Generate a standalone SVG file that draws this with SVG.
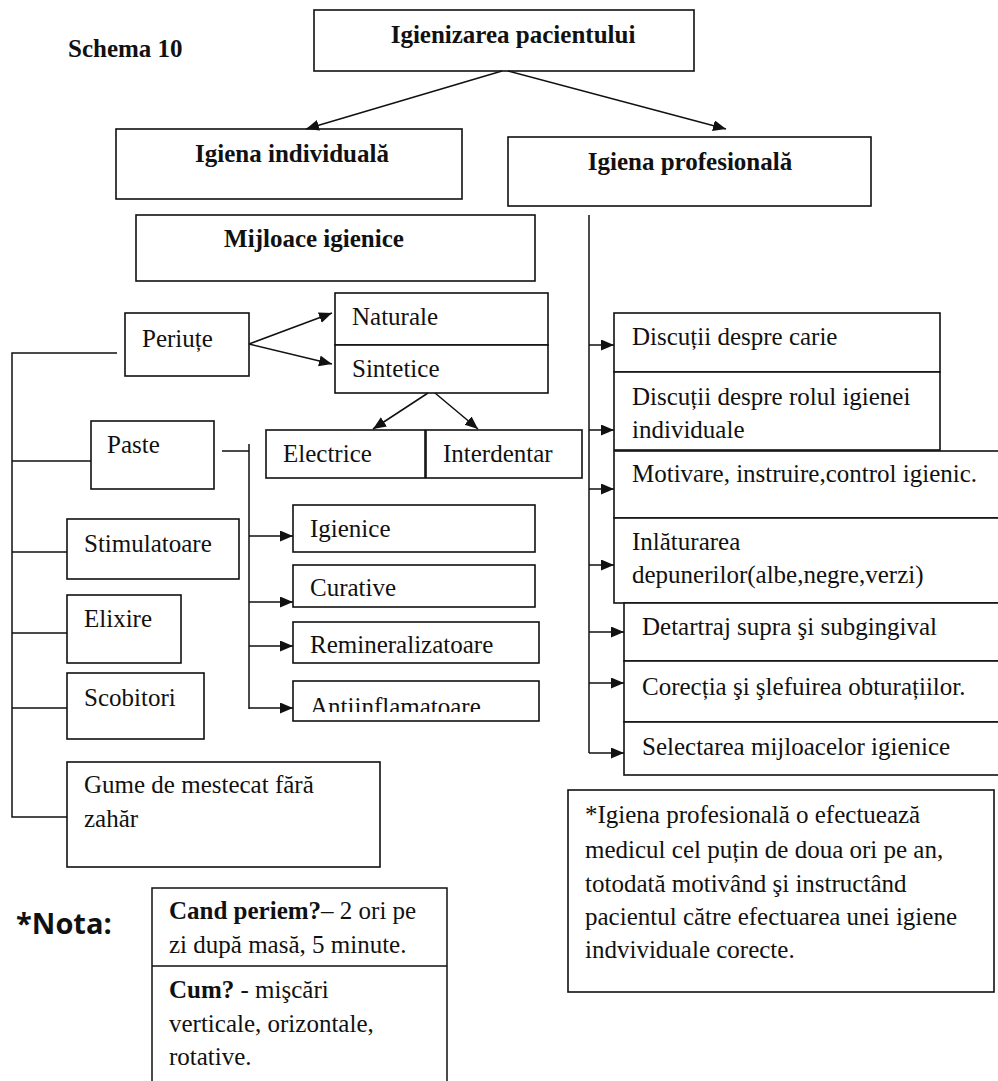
<svg xmlns="http://www.w3.org/2000/svg" width="998" height="1081" viewBox="0 0 998 1081">
<style>
.b{fill:#fff;stroke:#111;stroke-width:1.6}
.c{fill:none;stroke:#111;stroke-width:1.5}
.t{font-family:"Liberation Serif","Times New Roman",serif;font-size:25px;fill:#111}
.tb{font-family:"Liberation Serif","Times New Roman",serif;font-size:25px;font-weight:bold;fill:#111}
.n{font-family:"Open Sans","Liberation Sans",sans-serif;font-size:29px;font-weight:bold;fill:#111}
</style>
<defs>
<marker id="ah" markerUnits="userSpaceOnUse" markerWidth="14" markerHeight="12" refX="13" refY="5.5" orient="auto">
<path d="M0,0 L13,5.5 L0,11 z" fill="#111"/>
</marker>
<clipPath id="clipA"><rect x="293" y="681" width="246" height="31"/></clipPath>
</defs>
<rect width="998" height="1081" fill="#fff"/>

<text class="tb" x="68" y="57">Schema 10</text>

<g id="n-root"><rect class="b" x="314" y="10" width="380" height="61"/><text class="tb" x="513" y="43" text-anchor="middle">Igienizarea pacientului</text></g>
<g id="n-indiv"><rect class="b" x="116" y="129" width="346" height="70"/><text class="tb" x="292" y="162" text-anchor="middle">Igiena individuală</text></g>
<g id="n-prof"><rect class="b" x="508" y="137" width="363" height="69"/><text class="tb" x="690" y="170" text-anchor="middle">Igiena profesională</text></g>
<g id="n-mij"><rect class="b" x="136" y="215" width="399" height="66"/><text class="tb" x="314" y="247" text-anchor="middle">Mijloace igienice</text></g>

<g id="n-periute"><rect class="b" x="125" y="313" width="124" height="63"/><text class="t" x="142" y="347">Periuțe</text></g>
<g id="n-naturale"><rect class="b" x="335" y="293" width="213" height="52"/><text class="t" x="352" y="325">Naturale</text></g>
<g id="n-sintetice"><rect class="b" x="335" y="345" width="213" height="48"/><text class="t" x="352" y="377">Sintetice</text></g>
<g id="n-electrice"><rect class="b" x="266" y="430" width="159" height="48"/><text class="t" x="283" y="462">Electrice</text></g>
<g id="n-interdentar"><rect class="b" x="426" y="430" width="156" height="48"/><text class="t" x="443" y="462">Interdentar</text></g>
<g id="n-paste"><rect class="b" x="91" y="421" width="123" height="68"/><text class="t" x="107" y="453">Paste</text></g>
<g id="n-stim"><rect class="b" x="67" y="519" width="172" height="60"/><text class="t" x="84" y="552">Stimulatoare</text></g>
<g id="n-elixire"><rect class="b" x="67" y="595" width="114" height="68"/><text class="t" x="84" y="627">Elixire</text></g>
<g id="n-scobitori"><rect class="b" x="67" y="673" width="137" height="66"/><text class="t" x="84" y="706">Scobitori</text></g>
<g id="n-gume"><rect class="b" x="67" y="762" width="313" height="105"/><text class="t" x="84" y="793">Gume de mestecat fără</text><text class="t" x="84" y="827">zahăr</text></g>

<g id="n-igienice"><rect class="b" x="293" y="505" width="242" height="47"/><text class="t" x="310" y="537">Igienice</text></g>
<g id="n-curative"><rect class="b" x="293" y="565" width="242" height="42"/><text class="t" x="310" y="596">Curative</text></g>
<g id="n-remin"><rect class="b" x="293" y="622" width="246" height="41"/><text class="t" x="310" y="653">Remineralizatoare</text></g>
<g id="n-antiinfl"><rect class="b" x="293" y="681" width="246" height="40"/><text class="t" x="310" y="715" clip-path="url(#clipA)">Antiinflamatoare</text></g>

<g id="n-carie"><rect class="b" x="614" y="313" width="326" height="59"/><text class="t" x="632" y="345">Discuții despre carie</text></g>
<g id="n-rolul"><rect class="b" x="614" y="372" width="326" height="78"/><text class="t" x="632" y="405">Discuții despre rolul igienei</text><text class="t" x="632" y="438">individuale</text></g>
<g id="n-motivare"><rect class="b" x="614" y="451" width="400" height="67"/><text class="t" x="632" y="482">Motivare, instruire,control igienic.</text></g>
<g id="n-inlaturare"><rect class="b" x="614" y="518" width="400" height="85"/><text class="t" x="632" y="550">Inlăturarea</text><text class="t" x="632" y="583">depunerilor(albe,negre,verzi)</text></g>
<g id="n-detartraj"><rect class="b" x="624" y="603" width="390" height="58"/><text class="t" x="642" y="635">Detartraj supra şi subgingival</text></g>
<g id="n-corectia"><rect class="b" x="624" y="661" width="390" height="61"/><text class="t" x="642" y="695">Corecția şi şlefuirea obturațiilor.</text></g>
<g id="n-selectare"><rect class="b" x="624" y="722" width="390" height="53"/><text class="t" x="642" y="755">Selectarea mijloacelor igienice</text></g>

<g id="n-note"><rect class="b" x="568" y="790" width="426" height="202"/>
<text class="t" x="585" y="823">*Igiena profesională o efectuează</text>
<text class="t" x="585" y="858">medicul cel puțin de doua ori pe an,</text>
<text class="t" x="585" y="892">totodată motivând şi instructând</text>
<text class="t" x="585" y="925">pacientul către efectuarea unei igiene</text>
<text class="t" x="585" y="958">indvividuale corecte.</text></g>

<g id="n-nota">
<text class="n" x="16" y="934">*Nota:</text>
<path class="c" d="M152,1081 V888 H447 V1081 M152,966 H447"/>
<text class="t" x="169" y="919"><tspan font-weight="bold">Cand periem?</tspan>– 2 ori pe</text>
<text class="t" x="169" y="953">zi după masă, 5 minute.</text>
<text class="t" x="169" y="998"><tspan font-weight="bold">Cum?</tspan> - mişcări</text>
<text class="t" x="169" y="1032">verticale, orizontale,</text>
<text class="t" x="169" y="1065">rotative.</text>
</g>

<g id="connectors" class="c">
<line x1="502" y1="71" x2="306" y2="129" marker-end="url(#ah)"/>
<line x1="508" y1="71" x2="726" y2="129" marker-end="url(#ah)"/>
<line x1="249" y1="344" x2="332" y2="313" marker-end="url(#ah)"/>
<line x1="249" y1="344" x2="332" y2="364" marker-end="url(#ah)"/>
<line x1="428" y1="393" x2="373" y2="429" marker-end="url(#ah)"/>
<line x1="435" y1="393" x2="478" y2="429" marker-end="url(#ah)"/>
<path d="M117,353 H12 V817 H67 M12,461 H91 M12,552 H67 M12,633 H67 M12,708 H67"/>
<path d="M222,451 H249 M249,444 V709"/>
<line x1="249" y1="536" x2="293" y2="536" marker-end="url(#ah)"/>
<line x1="249" y1="602" x2="293" y2="602" marker-end="url(#ah)"/>
<line x1="249" y1="646" x2="293" y2="646" marker-end="url(#ah)"/>
<line x1="249" y1="708" x2="293" y2="708" marker-end="url(#ah)"/>
<path d="M589,215 V753"/>
<line x1="589" y1="345" x2="614" y2="345" marker-end="url(#ah)"/>
<line x1="589" y1="430" x2="614" y2="430" marker-end="url(#ah)"/>
<line x1="589" y1="489" x2="614" y2="489" marker-end="url(#ah)"/>
<line x1="589" y1="565" x2="614" y2="565" marker-end="url(#ah)"/>
<line x1="589" y1="632" x2="624" y2="632" marker-end="url(#ah)"/>
<line x1="589" y1="683" x2="624" y2="683" marker-end="url(#ah)"/>
<line x1="589" y1="753" x2="624" y2="753" marker-end="url(#ah)"/>
</g>
</svg>
